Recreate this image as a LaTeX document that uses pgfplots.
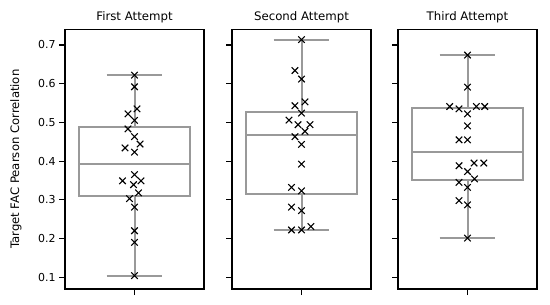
\documentclass[border=0pt]{standalone}
\usepackage{fontspec}
\setmainfont{DejaVu Sans}
\usepackage{pgfplots}
\pgfplotsset{compat=1.18}
\definecolor{boxgray}{HTML}{999999}
\tikzset{boxln/.style={draw=boxgray, line width=2bp}}
\pgfplotsset{
  panel/.style={
    scale only axis, width=139bp, height=259.7bp,
    anchor=south west,
    xmin=-0.5, xmax=0.5, ymin=0.0695, ymax=0.7405,
    xtick={0}, xticklabels={},
    ytick={0.1,0.2,0.3,0.4,0.5,0.6,0.7},
    tick align=outside, major tick length=6bp,
    every tick/.style={line width=1.1bp, black},
    axis line style={line width=1.1bp, black},
    xtick pos=bottom, ytick pos=left,
    tick label style={font=\fontsize{11}{12}\selectfont},
    title style={font=\fontsize{11.8}{13}\selectfont, at={(0.5,1)}, anchor=base, yshift=3bp},
    label style={font=\fontsize{11.7}{13}\selectfont},
  },
  pts/.style={only marks, mark=x, mark size=4.6bp, black, line width=1.1bp, mark options={solid, line width=1.1bp}},
}
% lower whisker, Q1, median, Q3, upper whisker
\newcommand{\drawbox}[5]{%
  \addplot[boxln, mark=none] coordinates {(0,#1) (0,#2)};
  \addplot[boxln, mark=none] coordinates {(0,#4) (0,#5)};
  \addplot[boxln, mark=none] coordinates {(-0.2,#1) (0.2,#1)};
  \addplot[boxln, mark=none] coordinates {(-0.2,#5) (0.2,#5)};
  \addplot[boxln, mark=none, fill=white] coordinates {(-0.4,#2) (0.4,#2) (0.4,#4) (-0.4,#4)} -- cycle;
  \addplot[boxln, mark=none] coordinates {(-0.4,#3) (0.4,#3)};
}
\begin{document}
\begin{tikzpicture}
\path[use as bounding box] (0,0) rectangle (550bp,305bp);
% Panel 1
\begin{axis}[panel, at={(65bp,16bp)}, title={First Attempt},
  yticklabels={0.1,0.2,0.3,0.4,0.5,0.6,0.7},
  ylabel={Target FAC Pearson Correlation},
  ylabel style={at={(axis description cs:-0.3525,0.5)}, anchor=center}]
\drawbox{0.104}{0.311}{0.393}{0.488}{0.622}
\addplot[pts] table {
x y
0 0.622
0 0.592
0.018 0.535
-0.047 0.522
0 0.505
-0.047 0.483
0 0.463
0.040 0.444
-0.068 0.434
0 0.423
0 0.365
-0.086 0.349
0.047 0.349
-0.007 0.339
0.029 0.318
-0.036 0.303
0 0.281
0 0.220
0 0.190
0 0.104
};
\end{axis}
% Panel 2
\begin{axis}[panel, at={(232bp,16bp)}, title={Second Attempt}, yticklabels={}]
\drawbox{0.222}{0.315}{0.467}{0.526}{0.714}
\addplot[pts] table {
x y
0 0.714
-0.047 0.634
0 0.612
0.025 0.553
-0.047 0.543
0 0.524
-0.090 0.506
-0.025 0.494
0.061 0.494
0.025 0.477
-0.047 0.463
0 0.443
0 0.392
-0.072 0.332
0 0.323
-0.072 0.281
0 0.272
0.068 0.231
-0.072 0.222
0 0.222
};
\end{axis}
% Panel 3
\begin{axis}[panel, at={(398bp,16bp)}, title={Third Attempt}, yticklabels={}]
\drawbox{0.201}{0.351}{0.423}{0.536}{0.674}
\addplot[pts] table {
x y
0 0.674
0 0.591
-0.128 0.541
0.064 0.541
0.124 0.541
-0.061 0.535
0 0.522
0 0.491
-0.061 0.455
0 0.455
0.047 0.395
0.117 0.395
-0.061 0.388
0 0.373
0.050 0.354
-0.061 0.345
0 0.332
-0.061 0.298
0 0.287
0 0.201
};
\end{axis}
\end{tikzpicture}
\end{document}
